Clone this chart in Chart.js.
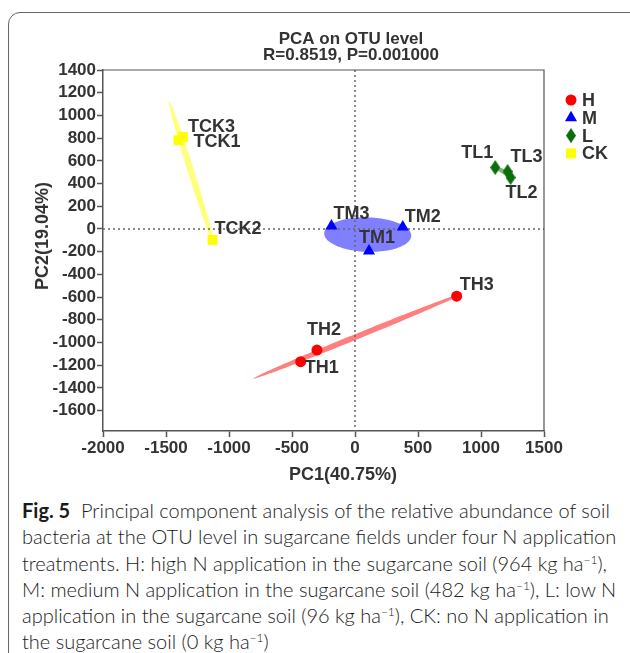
<!DOCTYPE html>
<html>
<head>
<meta charset="utf-8">
<script src="https://cdn.jsdelivr.net/npm/chart.js@4.4.1/dist/chart.umd.min.js"></script>
<style>
  html, body { margin: 0; padding: 0; background: #fff; overflow: hidden; }
  body { width: 630px; height: 653px; position: relative; }
  #frame { position: absolute; left: 8px; top: 12px; width: 640px; height: 680px; border: 1.5px solid #666; border-radius: 12px; box-sizing: border-box; }
  #chartBox { position: absolute; left: 0; top: 0; width: 630px; height: 490px; }
  #caption { position: absolute; left: 22px; top: 497px; font-family: Lato, "Open Sans", sans-serif; font-weight: 300; font-size: 20px; line-height: 26.3px; color: #1a1a1a; white-space: nowrap; transform-origin: 0 0; }
  #caption .ln { display: block; }
  #caption .ln span { display: inline-block; }
  #caption b { font-weight: bold; }
  #caption sup { font-size: 0.6em; line-height: 0; vertical-align: 0.6em; }
</style>
</head>
<body>
<div id="frame"></div>
<div id="chartBox"><canvas id="pcaChart"></canvas></div>
<div id="caption">
  <div class="ln"><span><b>Fig. 5</b>&nbsp; Principal component analysis of the relative abundance of soil</span></div>
  <div class="ln"><span id="refLine">bacteria at the OTU level in sugarcane fields under four N application</span></div>
  <div class="ln"><span>treatments. H: high N application in the sugarcane soil (964 kg ha<sup>−1</sup>),</span></div>
  <div class="ln"><span>M: medium N application in the sugarcane soil (482 kg ha<sup>−1</sup>), L: low N</span></div>
  <div class="ln"><span>application in the sugarcane soil (96 kg ha<sup>−1</sup>), CK: no N application in</span></div>
  <div class="ln"><span>the sugarcane soil (0 kg ha<sup>−1</sup>)</span></div>
</div>
<script>
// groups and sample scores (PC1, PC2)
const groups = ['H', 'M', 'L', 'CK'];
const hNames = ['TH1', 'TH2', 'TH3'];
const hX = [-431, -302, 807];
const hY = [-1169, -1067, -592];
const mNames = ['TM1', 'TM2', 'TM3'];
const mX = [111, 379, -187];
const mY = [-194, 18, 26];
const lNames = ['TL1', 'TL2', 'TL3'];
const lX = [1113, 1235, 1211];
const lY = [541, 453, 506];
const ckNames = ['TCK1', 'TCK2', 'TCK3'];
const ckX = [-1401, -1131, -1365];
const ckY = [782, -97, 811];

const xTicks = [-2000, -1500, -1000, -500, 0, 500, 1000, 1500];
const yTicks = [-1600, -1400, -1200, -1000, -800, -600, -400, -200, 0, 200, 400, 600, 800, 1000, 1200, 1400];

// size of the group ellipses, in standard deviations
const ellipseLevel = 1.22;

const pointColors = ['#ff0000', '#0000ff', '#0b6e0b', '#ffff00'];
const ellipseColors = ['rgba(255,0,0,0.5)', 'rgba(0,0,255,0.5)', 'rgba(0,110,0,0.5)', 'rgba(255,255,0,0.5)'];

// label offsets from the point, in pixels: [dx, dy, align]
const labelPos = {
  TH1: [4, 6, 'left'], TH2: [-10, -20, 'left'], TH3: [3, -11, 'left'],
  TM1: [-10, -13, 'left'], TM2: [2, -10, 'left'], TM3: [2, -12, 'left'],
  TL1: [-2, -14, 'right'], TL2: [-5, 16, 'left'], TL3: [3, -14, 'left'],
  TCK1: [15, 2, 'left'], TCK2: [2, -11, 'left'], TCK3: [5, -10, 'left']
};

const groupX = [hX, mX, lX, ckX];
const groupY = [hY, mY, lY, ckY];
const groupNames = [hNames, mNames, lNames, ckNames];

const FONT = "'Liberation Sans', Arial, sans-serif";
const TEXT = '#333';

// tall diamond used for the L group
function makeDiamond(color) {
  const c = document.createElement('canvas');
  c.width = 10; c.height = 15;
  const g = c.getContext('2d');
  g.fillStyle = color;
  g.beginPath();
  g.moveTo(5, 0); g.lineTo(10, 7.5); g.lineTo(5, 15); g.lineTo(0, 7.5);
  g.closePath(); g.fill();
  return c;
}
const diamond = makeDiamond(pointColors[2]);
const pointStyles = ['circle', 'triangle', diamond, 'rect'];
const pointRadii = [5.5, 7, 7, 7];

function covEllipse(xs, ys, k) {
  const n = xs.length;
  const mx = xs.reduce((a, b) => a + b, 0) / n;
  const my = ys.reduce((a, b) => a + b, 0) / n;
  let sxx = 0, syy = 0, sxy = 0;
  for (let i = 0; i < n; i++) {
    const dx = xs[i] - mx, dy = ys[i] - my;
    sxx += dx * dx; syy += dy * dy; sxy += dx * dy;
  }
  sxx /= (n - 1); syy /= (n - 1); sxy /= (n - 1);
  const a = Math.sqrt(sxx), b = sxy / a, c = Math.sqrt(Math.max(syy - b * b, 0));
  const pts = [];
  for (let t = 0; t <= 360; t += 3) {
    const r = t * Math.PI / 180;
    pts.push([mx + k * a * Math.cos(r), my + k * (b * Math.cos(r) + c * Math.sin(r))]);
  }
  return pts;
}

function drawMarker(ctx, i, x, y) {
  ctx.fillStyle = pointColors[i];
  ctx.beginPath();
  if (i === 0) {
    ctx.arc(x, y, 5.5, 0, Math.PI * 2);
  } else if (i === 1) {
    const r = 7;
    ctx.moveTo(x, y - r);
    ctx.lineTo(x + r * Math.cos(Math.PI / 6), y + r / 2);
    ctx.lineTo(x - r * Math.cos(Math.PI / 6), y + r / 2);
  } else if (i === 2) {
    ctx.drawImage(diamond, x - 5, y - 7.5);
    return;
  } else {
    ctx.rect(x - 5, y - 5, 10, 10);
  }
  ctx.closePath();
  ctx.fill();
}

const pcaDecor = {
  id: 'pcaDecor',
  beforeDatasetsDraw(chart) {
    const { ctx, chartArea: ca, scales: { x, y } } = chart;
    ctx.save();
    ctx.beginPath();
    ctx.rect(ca.left, ca.top, ca.width, ca.height);
    ctx.clip();
    groups.forEach((g, i) => {
      const pts = covEllipse(groupX[i], groupY[i], ellipseLevel);
      ctx.beginPath();
      pts.forEach((p, j) => {
        const px = x.getPixelForValue(p[0]), py = y.getPixelForValue(p[1]);
        if (j) ctx.lineTo(px, py); else ctx.moveTo(px, py);
      });
      ctx.closePath();
      ctx.fillStyle = ellipseColors[i];
      ctx.fill();
    });
    // dotted zero lines
    const x0 = x.getPixelForValue(0), y0 = y.getPixelForValue(0);
    ctx.setLineDash([2, 3]);
    ctx.strokeStyle = '#666';
    ctx.lineWidth = 1.5;
    ctx.beginPath();
    ctx.moveTo(x0, ca.top); ctx.lineTo(x0, ca.bottom);
    ctx.moveTo(ca.left, y0); ctx.lineTo(ca.right, y0);
    ctx.stroke();
    ctx.restore();
  },
  afterDatasetsDraw(chart) {
    const { ctx } = chart;
    ctx.save();
    ctx.font = 'bold 18px ' + FONT;
    ctx.fillStyle = TEXT;
    ctx.textBaseline = 'middle';
    groups.forEach((g, i) => {
      const meta = chart.getDatasetMeta(i);
      meta.data.forEach((pt, j) => {
        const name = groupNames[i][j];
        const [dx, dy, align] = labelPos[name];
        ctx.textAlign = align;
        ctx.fillText(name, pt.x + dx, pt.y + dy);
      });
    });
    ctx.restore();
  },
  afterDraw(chart) {
    const { ctx, chartArea: ca } = chart;
    ctx.save();
    // box: top and right edges
    ctx.strokeStyle = '#555';
    ctx.lineWidth = 1.2;
    ctx.beginPath();
    ctx.moveTo(ca.left, ca.top); ctx.lineTo(ca.right, ca.top); ctx.lineTo(ca.right, ca.bottom);
    ctx.stroke();

    ctx.fillStyle = TEXT;
    ctx.textAlign = 'center';
    ctx.textBaseline = 'middle';
    ctx.font = 'bold 17px ' + FONT;
    ctx.fillText('PCA on OTU level', 351, 39);
    ctx.fillText('R=0.8519, P=0.001000', 351, 55);

    ctx.font = 'bold 18px ' + FONT;
    ctx.fillText('PC1(40.75%)', 343, 475);
    ctx.save();
    ctx.translate(43, 236);
    ctx.rotate(-Math.PI / 2);
    ctx.fillText('PC2(19.04%)', 0, 0);
    ctx.restore();

    // legend
    ctx.textAlign = 'left';
    groups.forEach((g, i) => {
      const ly = ca.top + 30 + i * 17.8;
      drawMarker(ctx, i, ca.right + 27, ly);
      ctx.fillStyle = TEXT;
      ctx.fillText(g, ca.right + 38, ly + 1);
    });
    ctx.restore();
  }
};

const datasets = groups.map((g, i) => ({
  label: g,
  data: groupX[i].map((v, j) => ({ x: v, y: groupY[i][j] })),
  backgroundColor: pointColors[i],
  borderWidth: 0,
  pointStyle: pointStyles[i],
  pointRadius: pointRadii[i],
  pointHoverRadius: pointRadii[i]
}));

const tickFont = { family: FONT, size: 17, weight: 'bold' };

new Chart(document.getElementById('pcaChart'), {
  type: 'scatter',
  data: { datasets },
  options: {
    responsive: true,
    maintainAspectRatio: false,
    animation: false,
    events: [],
    layout: { padding: { top: 70, right: 86, left: 0, bottom: 0 } },
    plugins: { legend: { display: false }, tooltip: { enabled: false }, title: { display: false } },
    scales: {
      x: {
        type: 'linear',
        min: xTicks[0],
        max: xTicks[xTicks.length - 1],
        afterBuildTicks: (s) => { s.ticks = xTicks.map(v => ({ value: v })); },
        afterFit: (s) => { s.height = 59; },
        grid: { drawOnChartArea: false, tickColor: '#555', tickLength: 6, tickWidth: 1.5 },
        border: { color: '#555', width: 1.5 },
        ticks: { color: TEXT, font: tickFont, padding: 1, maxRotation: 0, callback: v => String(v) }
      },
      y: {
        type: 'linear',
        min: -1780,
        max: yTicks[yTicks.length - 1],
        afterBuildTicks: (s) => { s.ticks = yTicks.map(v => ({ value: v })); },
        afterFit: (s) => { s.width = 103; },
        grid: { drawOnChartArea: false, tickColor: '#555', tickLength: 6, tickWidth: 1.5 },
        border: { color: '#555', width: 1.5 },
        ticks: { color: TEXT, font: tickFont, padding: 1, callback: v => String(v) }
      }
    }
  },
  plugins: [pcaDecor]
});

// squeeze the caption so its lines break where the figure's do
function fitCaption() {
  const cap = document.getElementById('caption');
  const w = document.getElementById('refLine').getBoundingClientRect().width;
  cap.style.transform = 'scaleX(' + (598 / w) + ')';
}
if (document.fonts && document.fonts.ready) document.fonts.ready.then(fitCaption); else fitCaption();
fitCaption();
</script>
</body>
</html>
